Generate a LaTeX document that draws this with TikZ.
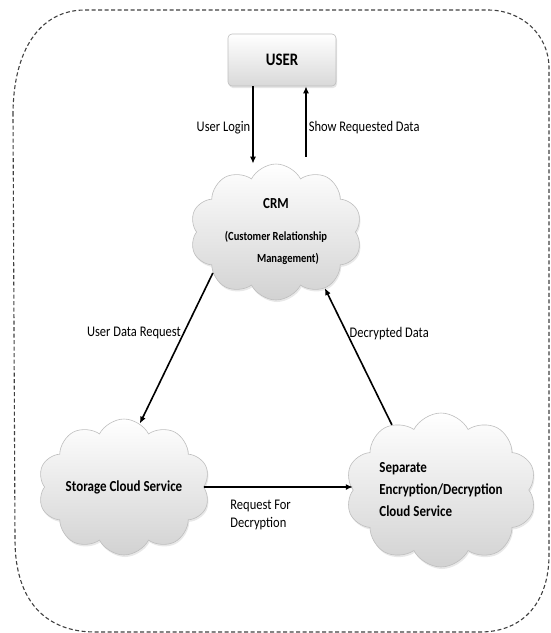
\documentclass[tikz,border=0pt]{standalone}
\usepackage{fontspec}
\setmainfont{Carlito}[FakeStretch=0.85]
\usepackage{tikz}
\usetikzlibrary{arrows.meta,calc,shapes.symbols,shadows}
\definecolor{puffline}{HTML}{BEBEBE}
\definecolor{puffdark}{HTML}{D2D2D2}

\begin{document}
\begin{tikzpicture}[>=Latex, x=1pt, y=-1pt,
    font=\fontsize{14.7}{18}\selectfont,
    cloudbox/.style={cloud, cloud puffs=10, cloud puff arc=125, cloud ignores aspect,
      draw=puffline, top color=white, bottom color=puffdark, line width=0.6pt,
      font=\fontsize{15.3}{22}\selectfont\bfseries,
      drop shadow={opacity=0.18, shadow xshift=1pt, shadow yshift=-2pt}},
    userbox/.style={rectangle, rounded corners=4pt, draw=puffline, line width=0.6pt,
      top color=white, bottom color=puffdark!85,
      minimum width=108pt, minimum height=52pt, font=\fontsize{17.5}{20}\selectfont\bfseries,
      drop shadow={opacity=0.2, shadow xshift=1pt, shadow yshift=-2pt}},
    flow/.style={->, line width=1.6pt, >={Latex[length=7pt,width=6pt]}},
    tag/.style={inner sep=2pt}]
  \def\small{\fontsize{12.4}{17}\selectfont}   % size of the CRM subtitle
  \useasboundingbox (0,0) rectangle (550,633);
  % outer boundary of the system
  \draw[dash pattern=on 4pt off 2.5pt, line width=1.1pt, black!75]
    (13,115) .. controls (13,50) and (40,10) .. (85,10) -- (488,10)
    .. controls (522,10) and (549,35) .. (549,68) -- (549,555)
    .. controls (549,600) and (525,632) .. (480,632) -- (95,632)
    .. controls (45,632) and (15,600) .. (15,540) -- cycle;
  % parties
  \node[userbox] (user) at (282,60) {USER};
  \node[cloudbox, minimum width=172pt, minimum height=136pt, align=center] (crm) at (276,232)
    {CRM\\[10pt]\small(Customer Relationship\\ \small\hspace*{24pt}Management)};
  \node[cloudbox, minimum width=172pt, minimum height=136pt] (storage) at (124,487)
    {Storage Cloud Service};
  \node[cloudbox, minimum width=162pt, minimum height=154pt, align=left] (enc) at (441,490)
    {Separate\\Encryption/Decryption\\Cloud Service};
  % data flows
  \draw[flow] ([xshift=-29pt]user.south) -- ([xshift=-23pt]crm.north)
    node[tag, pos=0.54, left] {User Login};
  \draw[flow] ([xshift=30pt, yshift=7pt]crm.north) -- ([xshift=24pt]user.south)
    node[tag, pos=0.42, right] {Show Requested Data};
  \draw[flow] (crm.213) -- (storage.76)
    node[tag, pos=0.4, left] {User Data Request};
  \draw[flow] (storage.east) -- (storage.east -| enc.west)
    node[tag, pos=0.16, below right, align=left, yshift=-10pt] {Request For\\Decryption};
  \draw[flow] (enc.127) -- (crm.311)
    node[tag, pos=0.67, right] {Decrypted Data};
\end{tikzpicture}
\end{document}
